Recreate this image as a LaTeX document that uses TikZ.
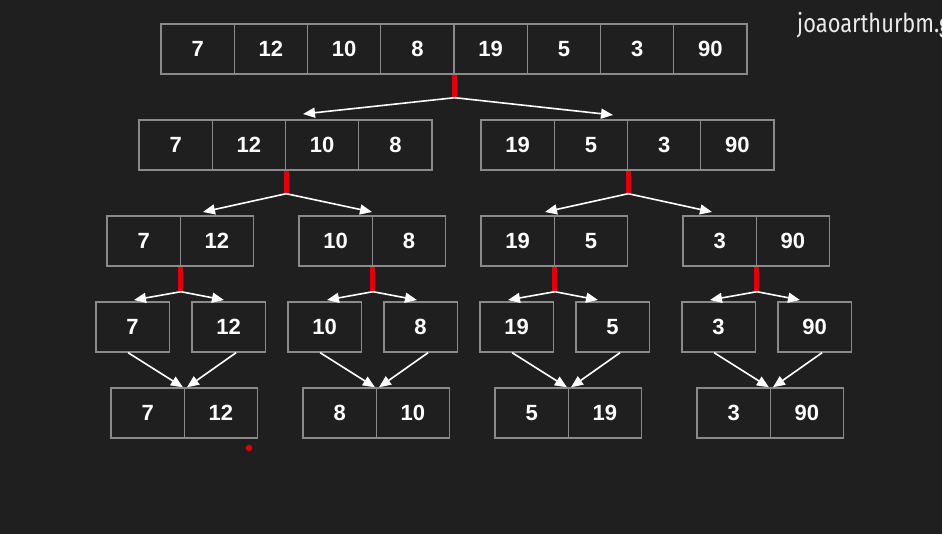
\documentclass[tikz,border=0pt]{standalone}
\usepackage{fontspec}
\setmainfont{Liberation Sans}
\newfontfamily\wmfont{Fira Sans}
\usetikzlibrary{arrows.meta}
\definecolor{bg}{HTML}{1F1F1F}
\definecolor{edge}{HTML}{8A8A8A}
\definecolor{splitred}{HTML}{E00010}
\begin{document}
\begin{tikzpicture}[x=1pt,y=-1pt,
  cell/.style={draw=edge, line width=1.4pt, minimum width=73.25pt, minimum height=50pt,
    inner sep=0pt, text=white, font=\bfseries\fontsize{22}{22}\selectfont},
  redbar/.style={draw=splitred, line width=5pt},
  arr/.style={draw=white, line width=1.6pt, -{Triangle[length=12pt,width=10pt]}}]
\useasboundingbox[fill=bg] (0,0) rectangle (942,534);
% watermark
\node[anchor=base west, inner sep=0pt, text={rgb,255:red,235;green,235;blue,235}] (wm) at (797,33)
  {\scalebox{0.84}[1]{\wmfont\fontsize{26}{26}\selectfont joaoarthurbm.g}};
% row 1
\foreach \v [count=\i] in {7,12,10,8,19,5,3,90}
  \node[cell] (t\i) at ({161+73.25*(\i-0.5)},49) {\v};
% row 2
\foreach \v [count=\i] in {7,12,10,8}
  \node[cell] (a\i) at ({139+73.25*(\i-0.5)},145) {\v};
\foreach \v [count=\i] in {19,5,3,90}
  \node[cell] (b\i) at ({481+73.25*(\i-0.5)},145) {\v};
% row 3
\foreach \v [count=\i] in {7,12}
  \node[cell] (c\i) at ({107+73.25*(\i-0.5)},241) {\v};
\foreach \v [count=\i] in {10,8}
  \node[cell] (d\i) at ({299+73.25*(\i-0.5)},241) {\v};
\foreach \v [count=\i] in {19,5}
  \node[cell] (e\i) at ({481+73.25*(\i-0.5)},241) {\v};
\foreach \v [count=\i] in {3,90}
  \node[cell] (f\i) at ({683+73.25*(\i-0.5)},241) {\v};
% row 4
\foreach \v/\x [count=\i] in {7/96,12/192,10/288,8/384,19/480,5/576,3/682,90/778}
  \node[cell] (g\i) at ({\x+36.6},327) {\v};
% row 5
\foreach \v [count=\i] in {7,12}
  \node[cell] (h\i) at ({111+73.25*(\i-0.5)},413) {\v};
\foreach \v [count=\i] in {8,10}
  \node[cell] (k\i) at ({303+73.25*(\i-0.5)},413) {\v};
\foreach \v [count=\i] in {5,19}
  \node[cell] (m\i) at ({495+73.25*(\i-0.5)},413) {\v};
\foreach \v [count=\i] in {3,90}
  \node[cell] (n\i) at ({697+73.25*(\i-0.5)},413) {\v};
% split points
\path (t4.south east) ++(0,23) coordinate (s1);
\path (a2.south east) ++(0,23) coordinate (s2);
\path (b2.south east) ++(0,23) coordinate (s3);
\path (c1.south east) ++(0,25) coordinate (s4);
\path (d1.south east) ++(0,25) coordinate (s5);
\path (e1.south east) ++(0,25) coordinate (s6);
\path (f1.south east) ++(0,25) coordinate (s7);
\draw[redbar] (t4.south east) -- (s1);
\draw[redbar] (a2.south east) -- (s2);
\draw[redbar] (b2.south east) -- (s3);
\draw[redbar] (c1.south east) -- (s4);
\draw[redbar] (d1.south east) -- (s5);
\draw[redbar] (e1.south east) -- (s6);
\draw[redbar] (f1.south east) -- (s7);
% arrow tips
\coordinate (p1) at (303,114); \coordinate (p2) at (613,115);
\coordinate (p3) at (203,212); \coordinate (p4) at (372,212);
\coordinate (p5) at (545,212); \coordinate (p6) at (712,212);
\coordinate (p7) at (134,300); \coordinate (p8) at (224,300);
\coordinate (p9) at (327,300); \coordinate (p10) at (417,300);
\coordinate (p11) at (508,300); \coordinate (p12) at (598,300);
\coordinate (p13) at (710,300); \coordinate (p14) at (800,300);
\draw[arr] (s1) -- (p1); \draw[arr] (s1) -- (p2);
\draw[arr] (s2) -- (p3); \draw[arr] (s2) -- (p4);
\draw[arr] (s3) -- (p5); \draw[arr] (s3) -- (p6);
\draw[arr] (s4) -- (p7); \draw[arr] (s4) -- (p8);
\draw[arr] (s5) -- (p9); \draw[arr] (s5) -- (p10);
\draw[arr] (s6) -- (p11); \draw[arr] (s6) -- (p12);
\draw[arr] (s7) -- (p13); \draw[arr] (s7) -- (p14);
% merge arrows
\draw[arr] ([xshift=-4.5pt]g1.south) -- ([xshift=-2pt]h1.north east);
\draw[arr] ([xshift=7.5pt]g2.south) -- ([xshift=2pt]h1.north east);
\draw[arr] ([xshift=-4.5pt]g3.south) -- ([xshift=-2pt]k1.north east);
\draw[arr] ([xshift=7.5pt]g4.south) -- ([xshift=2pt]k1.north east);
\draw[arr] ([xshift=-4.5pt]g5.south) -- ([xshift=-2pt]m1.north east);
\draw[arr] ([xshift=7.5pt]g6.south) -- ([xshift=2pt]m1.north east);
\draw[arr] ([xshift=-4.5pt]g7.south) -- ([xshift=-2pt]n1.north east);
\draw[arr] ([xshift=7.5pt]g8.south) -- ([xshift=2pt]n1.north east);
% pointer dot
\fill[splitred] (249,448) circle (3.3pt);
\end{tikzpicture}
\end{document}
